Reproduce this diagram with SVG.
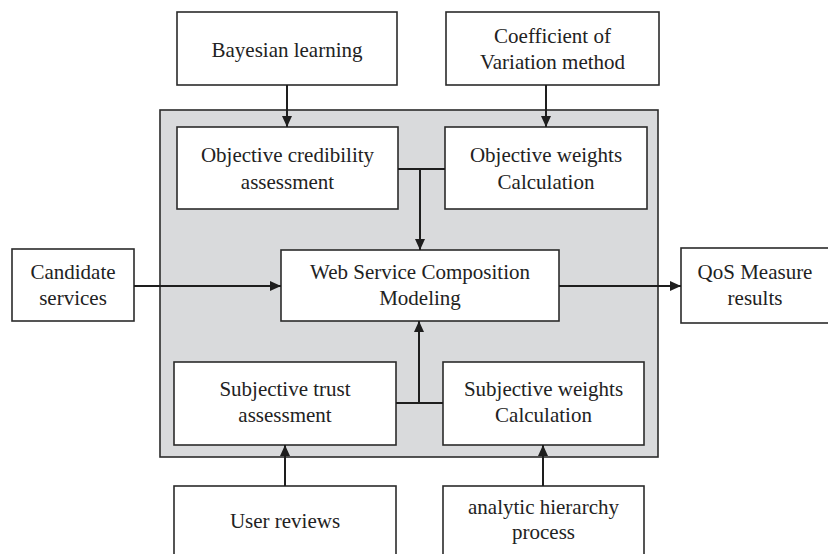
<svg xmlns="http://www.w3.org/2000/svg" width="828" height="554" viewBox="0 0 828 554">
  <defs>
    <marker id="arrow" markerUnits="userSpaceOnUse" markerWidth="12" markerHeight="11" refX="11" refY="5" orient="auto">
      <path d="M0,0 L11,5 L0,10 z" fill="#1e1e1e"/>
    </marker>
    <style>
      .box { fill: #ffffff; stroke: #2b2b2b; stroke-width: 1.6; }
      .panel { fill: #d9dadc; stroke: #2b2b2b; stroke-width: 1.6; }
      .lbl { font-family: "Liberation Serif", "Times New Roman", serif; font-size: 21px; fill: #222222; text-anchor: middle; }
      .wire { fill: none; stroke: #1e1e1e; stroke-width: 2; }
    </style>
  </defs>

  <rect width="828" height="554" fill="#ffffff"/>

  <!-- shaded processing panel -->
  <g id="panel">
    <rect class="panel" x="160" y="110" width="498" height="347"/>
  </g>

  <g id="bayesian">
    <rect class="box" x="177" y="12" width="220" height="73"/>
    <text class="lbl" x="287" y="57">Bayesian learning</text>
  </g>

  <g id="coefficient">
    <rect class="box" x="446" y="12" width="213" height="73"/>
    <text class="lbl" x="552.5" y="43">Coefficient of</text>
    <text class="lbl" x="552.5" y="69">Variation method</text>
  </g>

  <g id="objective-credibility">
    <rect class="box" x="177" y="127" width="221" height="82"/>
    <text class="lbl" x="287.5" y="162">Objective credibility</text>
    <text class="lbl" x="287.5" y="189">assessment</text>
  </g>

  <g id="objective-weights">
    <rect class="box" x="445" y="127" width="202" height="82"/>
    <text class="lbl" x="546" y="162">Objective weights</text>
    <text class="lbl" x="546" y="189">Calculation</text>
  </g>

  <g id="candidate">
    <rect class="box" x="12" y="249" width="122" height="72"/>
    <text class="lbl" x="73" y="279">Candidate</text>
    <text class="lbl" x="73" y="305">services</text>
  </g>

  <g id="composition">
    <rect class="box" x="281" y="250" width="278" height="71"/>
    <text class="lbl" x="420" y="279">Web Service Composition</text>
    <text class="lbl" x="420" y="305">Modeling</text>
  </g>

  <g id="qos">
    <rect class="box" x="681" y="248" width="150" height="75"/>
    <text class="lbl" x="755" y="279">QoS Measure</text>
    <text class="lbl" x="755" y="305">results</text>
  </g>

  <g id="subjective-trust">
    <rect class="box" x="174" y="362" width="222" height="83"/>
    <text class="lbl" x="285" y="396">Subjective trust</text>
    <text class="lbl" x="285" y="422">assessment</text>
  </g>

  <g id="subjective-weights">
    <rect class="box" x="443" y="362" width="201" height="83"/>
    <text class="lbl" x="543.5" y="396">Subjective weights</text>
    <text class="lbl" x="543.5" y="422">Calculation</text>
  </g>

  <g id="user-reviews">
    <rect class="box" x="174" y="486" width="222" height="80"/>
    <text class="lbl" x="285" y="528">User reviews</text>
  </g>

  <g id="ahp">
    <rect class="box" x="443" y="486" width="201" height="80"/>
    <text class="lbl" x="543.5" y="514">analytic hierarchy</text>
    <text class="lbl" x="543.5" y="539">process</text>
  </g>

  <!-- connectors -->
  <g id="connectors">
    <line class="wire" x1="287" y1="85" x2="287" y2="127" marker-end="url(#arrow)"/>
    <line class="wire" x1="546" y1="85" x2="546" y2="127" marker-end="url(#arrow)"/>
    <line class="wire" x1="398" y1="169" x2="445" y2="169"/>
    <line class="wire" x1="420" y1="169" x2="420" y2="250" marker-end="url(#arrow)"/>
    <line class="wire" x1="134" y1="286" x2="281" y2="286" marker-end="url(#arrow)"/>
    <line class="wire" x1="559" y1="286" x2="681" y2="286" marker-end="url(#arrow)"/>
    <line class="wire" x1="396" y1="403" x2="443" y2="403"/>
    <line class="wire" x1="419" y1="403" x2="419" y2="321" marker-end="url(#arrow)"/>
    <line class="wire" x1="285" y1="486" x2="285" y2="445" marker-end="url(#arrow)"/>
    <line class="wire" x1="543" y1="486" x2="543" y2="445" marker-end="url(#arrow)"/>
  </g>
</svg>
